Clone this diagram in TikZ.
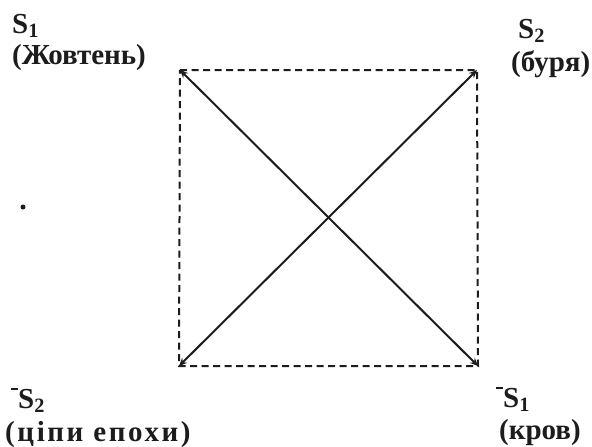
\documentclass[tikz,border=0pt]{standalone}
\usepackage{fontspec}
\setmainfont{Liberation Serif}
\usetikzlibrary{arrows.meta, positioning}
\definecolor{InkGray}{RGB}{28,28,28}
\newcommand{\negbar}{\rule[0.62em]{0.24em}{0.07em}}

\begin{document}
\begin{tikzpicture}[
    x=1pt, y=-1pt,
    lbl/.style={inner sep=0pt, anchor=base west, text=InkGray,
                font=\fontsize{29}{32}\selectfont\bfseries},
    side/.style={dash pattern=on 7pt off 4.5pt, line width=2pt, InkGray},
    diag/.style={{Stealth[length=8pt,width=7pt]}-{Stealth[length=8pt,width=7pt]},
                 line width=2pt, InkGray},
    dot/.style={circle, fill=InkGray, inner sep=0pt, minimum size=5pt}
]
\useasboundingbox (0,0) rectangle (592,447);
% corners of the square
\coordinate (tl) at (180,70);
\coordinate (tr) at (477,70);
\coordinate (br) at (478,366);
\coordinate (bl) at (179,366);
% labels
\node[lbl] (s1) at (12,33) {S\textsubscript{1}};
\node[lbl] (s1t) at (12,64) {(Жовтень)};
\node[lbl] (s2) at (518,38) {S\textsubscript{2}};
\node[lbl] (s2t) at (511,71) {(буря)};
\node[lbl] (ns2) at (11,408) {\negbar S\textsubscript{2}};
\node[lbl] (ns2t) at (5,441) {\addfontfeature{LetterSpace=9}(ціпи епохи)};
\node[lbl] (ns1) at (496,407) {\negbar S\textsubscript{1}};
\node[lbl] (ns1t) at (499,439) {(кров)};
\node[dot] (mark) at (23,207) {};
% square and diagonals
\draw[side] (tl) -- (tr) -- (br) -- (bl) -- cycle;
\draw[diag] (tl) -- (br);
\draw[diag] (tr) -- (bl);
\end{tikzpicture}
\end{document}
